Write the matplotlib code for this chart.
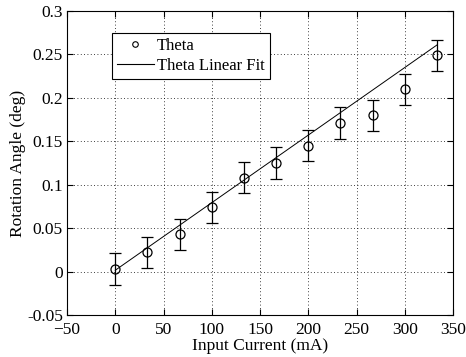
import numpy as np
import matplotlib.pyplot as plt

# data
current = [0, 33.3, 66.7, 100, 133.3, 166.7, 200, 233.3, 266.7, 300, 333.3]
theta = [0.003, 0.022, 0.043, 0.074, 0.108, 0.125, 0.145, 0.171, 0.180, 0.210, 0.249]
theta_err = [0.018, 0.018, 0.018, 0.018, 0.018, 0.018, 0.018, 0.018, 0.018, 0.018, 0.018]
fit_slope = 0.000778
fit_intercept = 0.0015

plt.rcParams['font.family'] = ['Liberation Serif', 'DejaVu Serif']

fig = plt.figure(figsize=(4.66, 3.57), dpi=100)
ax = fig.add_axes([67/466, 1 - 315/357, (453-67)/466, (315-11)/357])

x = np.array(current)
ax.errorbar(x, theta, yerr=theta_err, fmt='o', mfc='none', mec='black', ms=6.5,
            ecolor='black', elinewidth=0.9, capsize=4, capthick=0.9, mew=0.9, zorder=3)
fit_x = np.array([current[0], current[-1]])
ax.plot(fit_x, fit_slope * fit_x + fit_intercept, color='black', lw=0.7)

# legend handles
h1, = ax.plot([], [], 'o', mfc='none', mec='black', ms=4, mew=0.8, label='Theta')
h2, = ax.plot([], [], '-', color='black', lw=0.8, label='Theta Linear Fit')
leg = ax.legend(handles=[h1, h2], loc='upper left', bbox_to_anchor=(0.1166, 0.9276),
                borderaxespad=0, fancybox=False, framealpha=1, edgecolor='black',
                borderpad=0.3, handlelength=2.2, handletextpad=0.2,
                labelspacing=0.25, fontsize=12)
leg.get_frame().set_linewidth(0.8)

ax.set_xlim(-50, 350)
ax.set_ylim(-0.05, 0.3)
ax.set_xticks(np.arange(-50, 351, 50))
ax.set_yticks(np.arange(-0.05, 0.31, 0.05))
ax.set_yticklabels(['-0.05', '0', '0.05', '0.1', '0.15', '0.2', '0.25', '0.3'])
ax.grid(True, linestyle=(0, (1, 3)), color='black', lw=0.6)
ax.tick_params(direction='in', top=True, right=True, length=4, labelsize=12.5)
ax.tick_params(axis='x', pad=5)
ax.tick_params(axis='y', pad=3)
for s in ax.spines.values():
    s.set_linewidth(0.8)

ax.set_xlabel('Input Current (mA)', fontsize=12.5, labelpad=0)
ax.set_ylabel('Rotation Angle (deg)', fontsize=12.5, labelpad=1)

fig.savefig('out.png', dpi=100)
